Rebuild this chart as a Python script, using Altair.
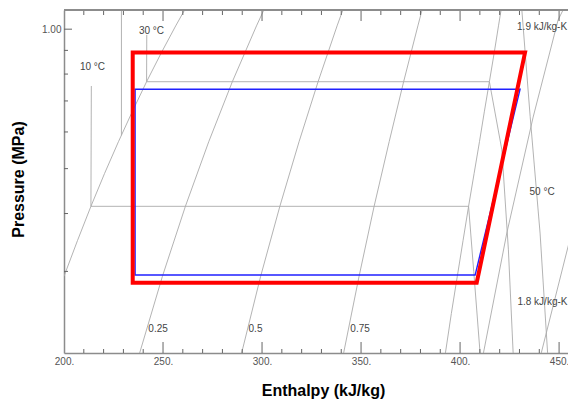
import altair as alt
import pandas as pd

# ---------------- data ----------------
sat_liq_h = [200.0, 206.8, 213.6, 220.5, 227.5, 234.6, 241.7, 249.0, 256.4, 260.9]
sat_liq_p = [0.2928, 0.3496, 0.4146, 0.4884, 0.5717, 0.6654, 0.7702, 0.8870, 1.0166, 1.100]
sat_vap_h = [392.6, 395.6, 398.6, 401.5, 404.3, 407.1, 409.8, 412.3, 414.8, 417.2, 419.4, 420.7]
sat_vap_p = [0.200, 0.2434, 0.2928, 0.3496, 0.4146, 0.4884, 0.5717, 0.6654, 0.7702, 0.8870, 1.0166, 1.100]
q_p = [0.200, 0.2928, 0.4146, 0.5717, 0.7702, 1.0166, 1.100]
q25_h = [238.2, 249.7, 261.3, 273.1, 285.0, 297.2, 300.9]
q50_h = [289.7, 299.3, 309.0, 318.7, 328.3, 337.9, 340.8]
q75_h = [341.2, 349.0, 356.6, 364.2, 371.5, 378.7, 380.8]
t10_h = [213.8, 213.6, 404.3, 406.9, 410.1]
t10_p = [0.754, 0.4146, 0.4146, 0.300, 0.200]
t20_h = [229.0, 229.0]
t20_p = [1.100, 0.590]
t30_h = [241.8, 241.7, 414.8, 421.1, 424.4, 426.8]
t30_p = [0.972, 0.7702, 0.7702, 0.549, 0.334, 0.200]
t50_h = [431.2, 435.4, 440.4, 444.2]
t50_p = [1.100, 0.647, 0.363, 0.200]
s18_h = [411.8, 423.6, 436.9, 449.5, 452.0]
s18_p = [0.200, 0.363, 0.646, 1.047, 1.100]
s19_h = [441.0, 454.5, 460.6]
s19_p = [0.200, 0.339, 0.428]

red_h = [234.7, 432.8, 408.4, 234.7, 234.7]
red_p = [0.890, 0.890, 0.2836, 0.2836, 0.890]
blue_h = [235.9, 430.3, 407.6, 235.9, 235.9]
blue_p = [0.742, 0.742, 0.2946, 0.2946, 0.742]

label_text = ["10 °C", "30 °C", "50 °C", "1.9 kJ/kg-K", "1.8 kJ/kg-K", "0.25", "0.5", "0.75"]
label_h = [214.4, 244.2, 441.4, 441.4, 441.6, 247.5, 296.7, 349.5]
label_p = [0.829, 0.9916, 0.4452, 1.0115, 0.2576, 0.2253, 0.2253, 0.2253]

x_labels = [200, 250, 300, 350, 400, 450]
x_minor = [210, 220, 230, 240, 260, 270, 280, 290, 310, 320, 330, 340,
           360, 370, 380, 390, 410, 420, 430, 440]
x_major = [250, 300, 350, 400, 450]
p_minor = [0.3, 0.4, 0.5, 0.6, 0.7, 0.8, 0.9]
p_major = [1.0]

# ---------------- tables ----------------
curves = [
    ("satliq", sat_liq_h, sat_liq_p), ("satvap", sat_vap_h, sat_vap_p),
    ("q25", q25_h, q_p), ("q50", q50_h, q_p), ("q75", q75_h, q_p),
    ("t10", t10_h, t10_p), ("t20", t20_h, t20_p), ("t30", t30_h, t30_p),
    ("t50", t50_h, t50_p), ("s18", s18_h, s18_p), ("s19", s19_h, s19_p),
]
rows = []
for name, hs, ps in curves:
    for i, (h, p) in enumerate(zip(hs, ps)):
        rows.append({"curve": name, "i": i, "h": h, "p": p})
gray_df = pd.DataFrame(rows)
red_df = pd.DataFrame({"h": red_h, "p": red_p, "i": range(len(red_h))})
blue_df = pd.DataFrame({"h": blue_h, "p": blue_p, "i": range(len(blue_h))})
lab_df = pd.DataFrame({"t": label_text, "h": label_h, "p": label_p})
xmin_df = pd.DataFrame({"h": x_minor})
xmaj_df = pd.DataFrame({"h": x_major})
pmin_df = pd.DataFrame({"p": p_minor})
pmaj_df = pd.DataFrame({"p": p_major})

W, H = 504, 343
FONT = "Liberation Sans"
AX = "#8c8c8c"
TK = "#666666"

x_scale = alt.Scale(domain=[200, 454.5], nice=False, zero=False)
y_scale = alt.Scale(type="log", domain=[0.2, 1.1], nice=False)
x_axis = alt.Axis(values=x_labels, labelExpr="datum.value + '.'", ticks=False, tickSize=0,
                  grid=False, domainColor=AX, domainWidth=1.5, labelFont=FONT,
                  labelFontSize=10, labelColor="#555555", labelPadding=3, labelFlush=False,
                  title="Enthalpy (kJ/kg)", titleFont=FONT, titleFontSize=16,
                  titleFontWeight="bold", titleColor="black", titleX=259, titleY=37,
                  titleBaseline="middle", titleAlign="center")
y_axis = alt.Axis(values=[1.0], format=".2f", ticks=False, tickSize=0, grid=False,
                  domainColor=AX, domainWidth=1.5, labelFont=FONT, labelFontSize=10,
                  labelColor="#555555", labelPadding=3,
                  title="Pressure (MPa)", titleFont=FONT, titleFontSize=16,
                  titleFontWeight="bold", titleColor="black", titleX=-46, titleY=169,
                  titleBaseline="middle", titleAlign="center")


def X():
    return alt.X("h:Q", scale=x_scale, axis=x_axis)


def Y():
    return alt.Y("p:Q", scale=y_scale, axis=y_axis)


gray = alt.Chart(gray_df).mark_line(color="#aaaaaa", strokeWidth=0.9, clip=True).encode(
    x=X(), y=Y(), detail="curve:N", order="i:Q")
red = alt.Chart(red_df).mark_line(color="#ff0000", strokeWidth=4, strokeCap="square",
                                  strokeJoin="miter", clip=True).encode(x=X(), y=Y(), order="i:Q")
blue = alt.Chart(blue_df).mark_line(color="#2020ff", strokeWidth=1.4, strokeCap="square",
                                    strokeJoin="miter", clip=True).encode(x=X(), y=Y(), order="i:Q")
labels = alt.Chart(lab_df).mark_text(font=FONT, fontSize=10, color="#444444",
                                     align="center", baseline="middle").encode(
    x=X(), y=Y(), text="t:N")

tick_style = dict(color=TK, strokeWidth=1)
bot_min = alt.Chart(xmin_df).mark_rule(**tick_style).encode(x=X(), y=alt.value(H), y2=alt.value(H - 4))
bot_maj = alt.Chart(xmaj_df).mark_rule(**tick_style).encode(x=X(), y=alt.value(H), y2=alt.value(H - 11))
top_min = alt.Chart(xmin_df).mark_rule(**tick_style).encode(x=X(), y=alt.value(0), y2=alt.value(5))
top_maj = alt.Chart(xmaj_df).mark_rule(**tick_style).encode(x=X(), y=alt.value(0), y2=alt.value(11))
left_min = alt.Chart(pmin_df).mark_rule(**tick_style).encode(y=Y(), x=alt.value(0), x2=alt.value(4))
left_maj = alt.Chart(pmaj_df).mark_rule(**tick_style).encode(y=Y(), x=alt.value(0), x2=alt.value(8))
top_line = alt.Chart(xmaj_df).mark_rule(color=AX, strokeWidth=1.5).encode(
    x=alt.value(0), x2=alt.value(W), y=alt.value(0))

chart = alt.layer(
    gray, labels, blue, red,
    bot_min, bot_maj, top_min, top_maj, left_min, left_maj, top_line,
).properties(
    width=W, height=H,
    autosize=alt.AutoSizeParams(type="none"),
    padding={"left": 56, "top": 2, "right": 0, "bottom": 48},
    background="white",
).configure_view(strokeWidth=0)

chart.save("out.html", embed_options={"renderer": "svg", "actions": False})
